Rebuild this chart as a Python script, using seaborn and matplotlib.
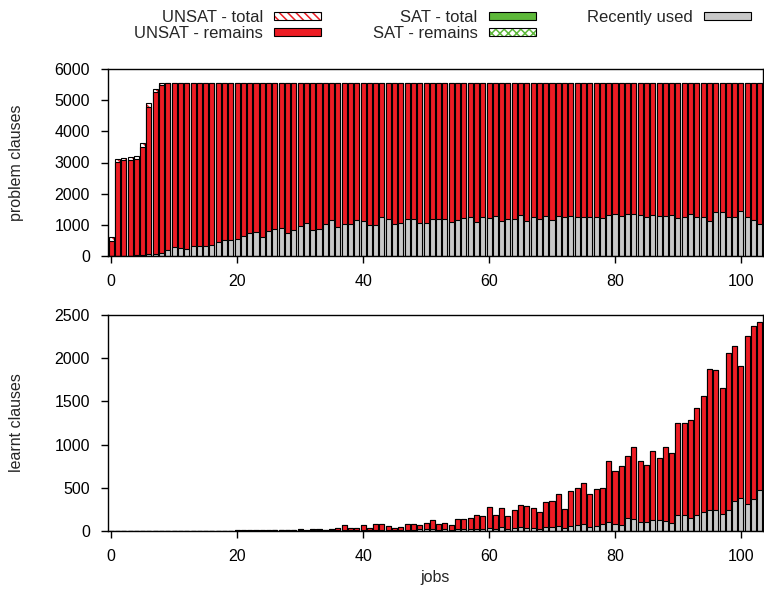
import numpy as np
import pandas as pd
import matplotlib
matplotlib.use("Agg")
import matplotlib.pyplot as plt
from matplotlib.patches import Patch
import seaborn as sns

# ---------------- data ----------------
jobs = list(range(104))

problem_unsat_total = [
    600, 3110, 3150, 3165, 3195, 3610, 4900, 5360, 5555, 5560,
    5560, 5560, 5560, 5560, 5560, 5560, 5560, 5560, 5560, 5560,
    5560, 5560, 5560, 5560, 5560, 5560, 5560, 5560, 5560, 5560,
    5560, 5560, 5560, 5560, 5560, 5560, 5560, 5560, 5560, 5560,
    5560, 5560, 5560, 5560, 5560, 5560, 5560, 5560, 5560, 5560,
    5560, 5560, 5560, 5560, 5560, 5560, 5560, 5560, 5560, 5560,
    5560, 5560, 5560, 5560, 5560, 5560, 5560, 5560, 5560, 5560,
    5560, 5560, 5560, 5560, 5560, 5560, 5560, 5560, 5560, 5560,
    5560, 5560, 5560, 5560, 5560, 5560, 5560, 5560, 5560, 5560,
    5560, 5560, 5560, 5560, 5560, 5560, 5560, 5560, 5560, 5560,
    5560, 5560, 5560, 5560,
]
problem_unsat_remains = [
    480, 3020, 3075, 3080, 3110, 3500, 4790, 5250, 5490, 5560,
    5560, 5560, 5560, 5560, 5560, 5560, 5560, 5560, 5560, 5560,
    5560, 5560, 5560, 5560, 5560, 5560, 5560, 5560, 5560, 5560,
    5560, 5560, 5560, 5560, 5560, 5560, 5560, 5560, 5560, 5560,
    5560, 5560, 5560, 5560, 5560, 5560, 5560, 5560, 5560, 5560,
    5560, 5560, 5560, 5560, 5560, 5560, 5560, 5560, 5560, 5560,
    5560, 5560, 5560, 5560, 5560, 5560, 5560, 5560, 5560, 5560,
    5560, 5560, 5560, 5560, 5560, 5560, 5560, 5560, 5560, 5560,
    5560, 5560, 5560, 5560, 5560, 5560, 5560, 5560, 5560, 5560,
    5560, 5560, 5560, 5560, 5560, 5560, 5560, 5560, 5560, 5560,
    5560, 5560, 5560, 5560,
]
problem_recent = [
    0, 10, 10, 15, 20, 40, 50, 75, 85, 180,
    280, 245, 215, 320, 330, 330, 350, 460, 500, 520,
    545, 650, 725, 760, 610, 800, 855, 910, 725, 825,
    955, 1070, 825, 865, 1035, 1155, 920, 1025, 1025, 1165,
    1110, 995, 1005, 1250, 1175, 1025, 1060, 1195, 1175, 1060,
    1060, 1175, 1195, 1185, 1080, 1165, 1230, 1240, 1090, 1240,
    1210, 1270, 1110, 1175, 1185, 1305, 1110, 1260, 1175, 1295,
    1145, 1270, 1240, 1280, 1240, 1250, 1240, 1250, 1210, 1305,
    1345, 1270, 1355, 1335, 1325, 1250, 1305, 1295, 1270, 1305,
    1230, 1250, 1345, 1250, 1240, 1110, 1420, 1400, 1240, 1240,
    1430, 1260, 1165, 1015,
]

learnt_unsat_total = [
    0, 0, 0, 0, 0, 0, 0, 0, 0, 0,
    0, 0, 2, 2, 3, 3, 3, 4, 4, 5,
    6, 6, 7, 7, 8, 10, 10, 10, 12, 12,
    20, 8, 20, 20, 12, 20, 31, 66, 39, 30,
    70, 39, 85, 85, 60, 30, 44, 77, 77, 64,
    98, 123, 85, 93, 73, 135, 139, 154, 181, 177,
    274, 181, 262, 174, 247, 297, 285, 262, 216, 332,
    343, 432, 255, 459, 494, 552, 432, 482, 492, 806,
    698, 748, 864, 972, 806, 760, 930, 849, 976, 907,
    1246, 1254, 1285, 1420, 1559, 1879, 1860, 1655, 2064, 2145,
    1906, 2253, 2373, 2419,
]
learnt_unsat_remains = [
    0, 0, 0, 0, 0, 0, 0, 0, 0, 0,
    0, 0, 2, 2, 3, 3, 3, 4, 4, 5,
    6, 6, 7, 7, 8, 10, 10, 10, 12, 12,
    20, 8, 20, 20, 12, 20, 31, 66, 39, 30,
    70, 39, 85, 85, 60, 30, 44, 77, 77, 64,
    98, 123, 85, 93, 73, 135, 139, 154, 181, 177,
    274, 181, 262, 174, 247, 297, 285, 262, 216, 332,
    343, 432, 255, 459, 494, 552, 432, 482, 492, 806,
    698, 748, 864, 972, 806, 760, 930, 849, 976, 907,
    1246, 1254, 1285, 1420, 1559, 1879, 1860, 1655, 2064, 2145,
    1906, 2253, 2373, 2419,
]
learnt_recent = [
    0, 0, 0, 0, 0, 0, 0, 0, 0, 0,
    0, 0, 1, 1, 2, 2, 2, 3, 3, 3,
    4, 4, 4, 5, 5, 5, 6, 6, 6, 7,
    8, 5, 8, 8, 6, 8, 10, 12, 9, 8,
    12, 9, 14, 14, 12, 8, 10, 14, 14, 18,
    20, 23, 15, 18, 16, 20, 22, 20, 25, 24,
    35, 25, 50, 23, 35, 46, 39, 31, 23, 46,
    46, 58, 35, 62, 69, 81, 42, 62, 79, 108,
    79, 73, 150, 143, 104, 104, 123, 123, 120, 93,
    181, 189, 154, 181, 216, 239, 239, 197, 239, 351,
    386, 312, 374, 471,
]

x_ticks = [0, 20, 40, 60, 80, 100]
problem_ticks = [0, 1000, 2000, 3000, 4000, 5000, 6000]
learnt_ticks = [0, 500, 1000, 1500, 2000, 2500]

legend_labels = ["UNSAT - total", "UNSAT - remains", "SAT - total",
                 "SAT - remains", "Recently used"]

# ---------------- style ----------------
sns.set_theme(style="ticks")
plt.rcParams["font.family"] = ["Liberation Sans", "DejaVu Sans"]
plt.rcParams["hatch.linewidth"] = 1.1
plt.rcParams["axes.linewidth"] = 1.0

RED = "#ed1c24"
GRAY = "#c8c8c8"
GREEN = "#5db83a"
FS = 11.5
LFS = 12
HATCH_U = "\\\\\\\\"
HATCH_S = "xxxx"

W, H = 764, 591
fig = plt.figure(figsize=(W / 100, H / 100), dpi=100)
ax1 = fig.add_axes([108 / W, 1 - 256 / H, 655 / W, 187 / H])
ax2 = fig.add_axes([108 / W, 1 - 531 / H, 655 / W, 216 / H])

df = pd.DataFrame({
    "job": jobs,
    "p_total": problem_unsat_total,
    "p_rem": problem_unsat_remains,
    "p_recent": problem_recent,
    "l_total": learnt_unsat_total,
    "l_rem": learnt_unsat_remains,
    "l_recent": learnt_recent,
})

def draw(ax, total, rem, recent):
    common = dict(data=df, x="job", native_scale=True, width=0.8,
                  errorbar=None, ax=ax, saturation=1)
    sns.barplot(y=total, color="white", edgecolor=RED, hatch=HATCH_U,
                linewidth=0, **common)
    sns.barplot(y=total, color="black", fill=False, linewidth=0.8, **common)
    sns.barplot(y=rem, color=RED, edgecolor="black", linewidth=0.8, **common)
    sns.barplot(y=recent, color=GRAY, edgecolor="black", linewidth=0.8, **common)
    ax.set_xlim(-0.5, 103.5)
    ax.set_xticks(x_ticks)
    ax.set_xticklabels([str(t) for t in x_ticks])
    ax.tick_params(axis="both", direction="out", length=5, width=1,
                   labelsize=FS, pad=8, colors="black")
    for s in ax.spines.values():
        s.set_visible(True)
        s.set_color("black")
        s.set_linewidth(1.0)
    ax.set_xlabel("")

draw(ax1, "p_total", "p_rem", "p_recent")
ax1.set_ylim(0, 6000)
ax1.set_yticks(problem_ticks)
ax1.set_yticklabels([str(t) for t in problem_ticks])
ax1.set_ylabel("problem clauses", fontsize=FS)
ax1.yaxis.set_label_coords(-0.128, 0.5)

draw(ax2, "l_total", "l_rem", "l_recent")
ax2.set_ylim(0, 2500)
ax2.set_yticks(learnt_ticks)
ax2.set_yticklabels([str(t) for t in learnt_ticks])
ax2.set_ylabel("learnt clauses", fontsize=FS)
ax2.yaxis.set_label_coords(-0.128, 0.5)
ax2.set_xlabel("jobs", fontsize=FS, labelpad=4)

# ---------------- legend ----------------
handles = [
    (Patch(facecolor="white", edgecolor=RED, hatch=HATCH_U, linewidth=0),
     Patch(facecolor="none", edgecolor="black", linewidth=0.8)),
    Patch(facecolor=RED, edgecolor="black", linewidth=0.8),
    Patch(facecolor=GREEN, edgecolor="black", linewidth=0.8),
    (Patch(facecolor="white", edgecolor=GREEN, hatch=HATCH_S, linewidth=0),
     Patch(facecolor="none", edgecolor="black", linewidth=0.8)),
    Patch(facecolor=GRAY, edgecolor="black", linewidth=0.8),
]
fig.legend(handles, legend_labels, ncol=3, markerfirst=False,
           loc="upper right", bbox_to_anchor=(751 / W, 1 - 10 / H),
           frameon=False, fontsize=LFS, handlelength=2.82, handleheight=0.42,
           handletextpad=0.66, columnspacing=3.1, labelspacing=0.05,
           borderpad=0, borderaxespad=0)

fig.savefig("out.png", dpi=100)
